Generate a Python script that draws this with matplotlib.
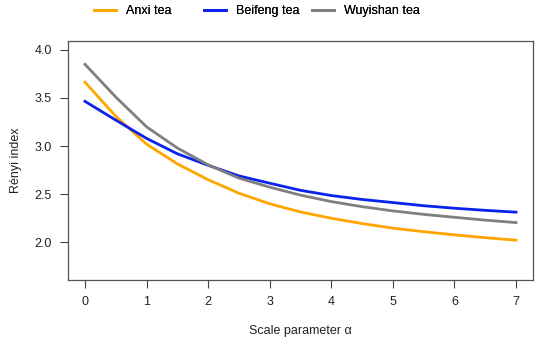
import matplotlib.pyplot as plt

alpha = [0, 0.5, 1, 1.5, 2, 2.5, 3, 3.5, 4, 4.5, 5, 5.5, 6, 6.5, 7]
anxi = [3.664, 3.31, 3.02, 2.815, 2.65, 2.51, 2.40, 2.315, 2.25, 2.195, 2.147, 2.11, 2.077, 2.048, 2.022]
beifeng = [3.465, 3.27, 3.08, 2.92, 2.80, 2.69, 2.614, 2.54, 2.486, 2.445, 2.413, 2.38, 2.354, 2.332, 2.313]
wuyishan = [3.85, 3.51, 3.20, 2.98, 2.805, 2.667, 2.573, 2.49, 2.423, 2.37, 2.326, 2.29, 2.26, 2.23, 2.205]

x_ticks = [0, 1, 2, 3, 4, 5, 6, 7]
y_ticks = [2.0, 2.5, 3.0, 3.5, 4.0]

plt.rcParams['font.family'] = ['Liberation Sans', 'DejaVu Sans']

fig = plt.figure(figsize=(5.5, 3.46), dpi=100)
ax = fig.add_axes([67.7 / 550, 66 / 346, 465.6 / 550, 239 / 346])

lines = []
lines += ax.plot(alpha, anxi, color='#FFA500', linewidth=2.0, label='Anxi tea')
lines += ax.plot(alpha, beifeng, color='#0A22EE', linewidth=2.0, label='Beifeng tea')
lines += ax.plot(alpha, wuyishan, color='#7F7F7F', linewidth=2.0, label='Wuyishan tea')

ax.set_xlim(-0.28, 7.28)
ax.set_ylim(1.608, 4.092)
ax.set_xticks(x_ticks)
ax.set_yticks(y_ticks)
ax.set_yticklabels([f'{v:.1f}' for v in y_ticks])
ax.tick_params(direction='out', length=6, width=0.8, colors='#444444',
               labelcolor='#222222', labelsize=9, pad=5.5)
for s in ax.spines.values():
    s.set_color('#555555')
    s.set_linewidth(0.9)

ax.set_xlabel('Scale parameter α', fontsize=9, labelpad=12, color='#222222')
ax.set_ylabel('Rényi index', fontsize=9, labelpad=9, color='#222222')

# legend entries placed individually, like the R legend
legend_x = [94 / 550, 204 / 550, 312 / 550]
for ln, lx in zip(lines, legend_x):
    leg = fig.legend(handles=[ln], loc='center left',
                     bbox_to_anchor=(lx, 1 - 11 / 346), frameon=False,
                     fontsize=9, handlelength=1.75, handletextpad=0.8,
                     borderpad=0, borderaxespad=0)
    fig.add_artist(leg)

fig.savefig('out.png', dpi=100)
